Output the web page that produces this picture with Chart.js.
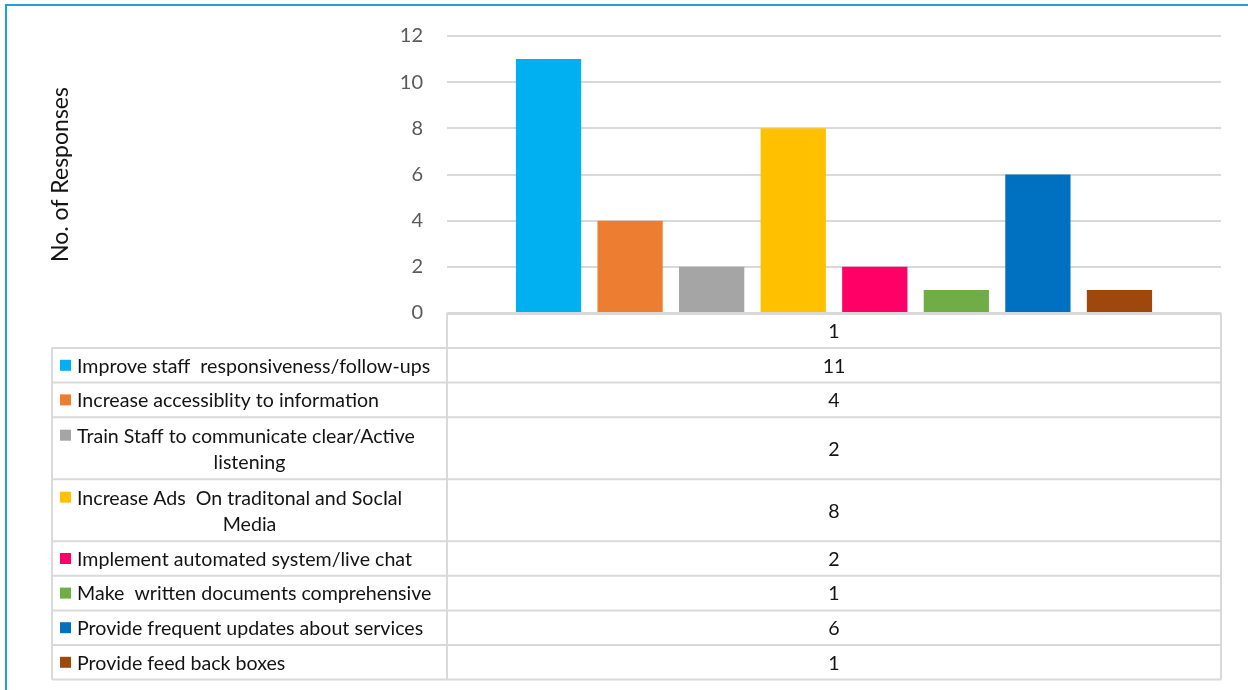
<!DOCTYPE html>
<html>
<head>
<meta charset="utf-8">
<script src="https://cdn.jsdelivr.net/npm/chart.js@4.4.1/dist/chart.umd.min.js"></script>
<style>
  html, body { margin: 0; padding: 0; background: #ffffff; }
  #wrap { position: absolute; left: 0; top: 0; width: 1248px; height: 690px; }
  #frame {
    position: absolute; left: 5px; top: 4px; width: 1243px; height: 686px;
    border-top: 2px solid #1ba1e2; border-left: 2px solid #1ba1e2;
    box-sizing: border-box; pointer-events: none;
  }
  canvas { position: absolute; left: 0; top: 0; }
</style>
</head>
<body>
<div id="wrap">
  <canvas id="chart" width="1248" height="690"></canvas>
  <div id="frame"></div>
</div>
<script>
// Category shown in the table header
const categories = ['1'];

// Suggested improvements (each entry is one line of the table label)
const seriesNames = [
  ['Improve staff  responsiveness/follow-ups'],
  ['Increase accessiblity to information'],
  ['Train Staff to communicate clear/Active', 'listening'],
  ['Increase Ads  On traditonal and SocIal', 'Media'],
  ['Implement automated system/live chat'],
  ['Make  written documents comprehensive'],
  ['Provide frequent updates about services'],
  ['Provide feed back boxes']
];

// Number of responses per suggestion
const seriesValues = [11, 4, 2, 8, 2, 1, 6, 1];

// Bar fill colours, one per suggestion
const palette = ['#00B0F0', '#ED7D31', '#A5A5A5', '#FFC000', '#FF0066', '#70AD47', '#0070C0', '#9E480E'];

const FONT = 'Lato, "Open Sans", sans-serif';
const GRID = '#d9d9d9';

const datasets = seriesNames.map((name, i) => ({
  label: name.join(' '),
  data: [seriesValues[i]],
  backgroundColor: palette[i],
  borderWidth: 0,
  categoryPercentage: 0.843,
  barPercentage: 0.8
}));

// Draws the data table (legend keys, names and values) below the plot area
const dataTablePlugin = {
  id: 'dataTable',
  afterDraw(chart) {
    const ctx = chart.ctx;
    const area = chart.chartArea;
    const xs = chart.scales.x;
    const tableLeft = 52;
    const colSplit = area.left;
    const right = area.right;
    const headerH = 34;
    const rowH = 34.6;
    const extraLine = 27.4;
    const lineGap = 26;

    ctx.save();
    ctx.strokeStyle = GRID;
    ctx.lineWidth = 2;
    ctx.fillStyle = '#141414';
    ctx.font = '19.6px ' + FONT;
    ctx.textBaseline = 'middle';

    const top = area.bottom + 1;
    // header row with the category label
    ctx.beginPath();
    ctx.moveTo(colSplit, top); ctx.lineTo(right, top);
    ctx.stroke();
    ctx.textAlign = 'center';
    const cx = xs.getPixelForValue(0);
    ctx.fillText(categories[0], cx, top + headerH / 2 + 1);

    let y = top + headerH;
    const rowsTop = y;
    ctx.beginPath();
    ctx.moveTo(tableLeft, y); ctx.lineTo(right, y);
    ctx.stroke();

    chart.data.datasets.forEach((ds, i) => {
      const lines = seriesNames[i];
      const h = rowH + (lines.length - 1) * extraLine;
      const mid = y + h / 2;
      const firstY = mid - (lines.length - 1) * lineGap / 2;

      // legend key
      ctx.fillStyle = ds.backgroundColor;
      ctx.fillRect(60, firstY - 5.5, 11, 11);

      ctx.fillStyle = '#141414';
      lines.forEach((ln, k) => {
        const ly = firstY + k * lineGap + 1;
        if (k === 0) {
          ctx.textAlign = 'left';
          ctx.fillText(ln, 77, ly);
        } else {
          ctx.textAlign = 'center';
          ctx.fillText(ln, (tableLeft + colSplit) / 2, ly);
        }
      });

      ctx.textAlign = 'center';
      ctx.fillText(String(ds.data[0]), cx, mid + 1);

      y += h;
      ctx.strokeStyle = GRID;
      ctx.beginPath();
      ctx.moveTo(tableLeft, y); ctx.lineTo(right, y);
      ctx.stroke();
    });

    // vertical rules
    ctx.beginPath();
    ctx.moveTo(tableLeft, rowsTop); ctx.lineTo(tableLeft, y);
    ctx.moveTo(colSplit, top - 1); ctx.lineTo(colSplit, y);
    ctx.moveTo(right, top - 1); ctx.lineTo(right, y);
    ctx.stroke();
    ctx.restore();
  }
};

new Chart(document.getElementById('chart'), {
  type: 'bar',
  data: { labels: categories, datasets },
  plugins: [dataTablePlugin],
  options: {
    responsive: false,
    animation: false,
    events: [],
    layout: { padding: { left: 40, top: 32, right: 27, bottom: 377 } },
    plugins: {
      legend: { display: false },
      tooltip: { enabled: false }
    },
    scales: {
      x: { display: false },
      y: {
        min: 0,
        max: 12,
        ticks: { stepSize: 2, padding: 24, color: '#595959', font: { family: FONT, size: 20 } },
        grid: { color: GRID, lineWidth: 2, drawTicks: false },
        border: { display: false },
        title: {
          display: true,
          text: 'No. of Responses',
          color: '#141414',
          padding: { top: 7, bottom: 0 },
          font: { family: FONT, size: 23 }
        },
        afterFit(scale) { scale.width = 407; }
      }
    }
  }
});
</script>
</body>
</html>
